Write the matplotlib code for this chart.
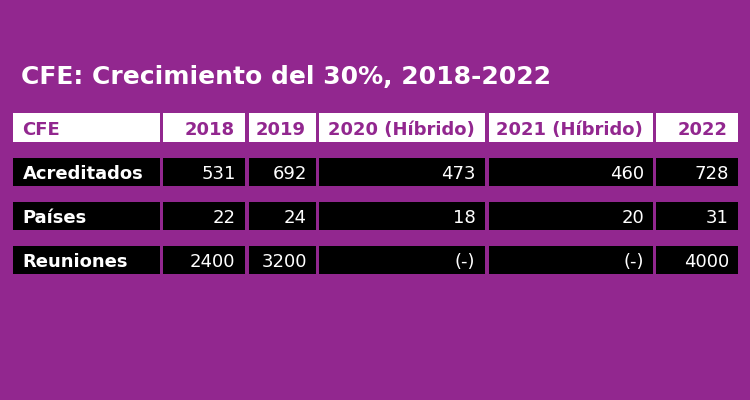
import matplotlib.pyplot as plt
from matplotlib.patches import Rectangle

# table content
title = "CFE: Crecimiento del 30%, 2018-2022"
header = ["CFE", "2018", "2019", "2020 (Híbrido)", "2021 (Híbrido)", "2022"]
row_labels = ["Acreditados", "Países", "Reuniones"]
acreditados = ["531", "692", "473", "460", "728"]
paises = ["22", "24", "18", "20", "31"]
reuniones = ["2400", "3200", "(-)", "(-)", "4000"]
rows = [acreditados, paises, reuniones]

purple = "#92278F"

# layout in pixels
col_left = [12.5, 163, 248.5, 319, 488.5, 656]
col_right = [159.5, 244.5, 316, 484.5, 653, 738]
header_y = (113, 142)
row_y = [(157.7, 186), (201.7, 230), (245.7, 274)]

fig = plt.figure(figsize=(7.5, 4), dpi=100, facecolor=purple)
ax = fig.add_axes([0, 0, 1, 1])
ax.set_xlim(0, 750)
ax.set_ylim(400, 0)
ax.axis("off")
ax.set_facecolor(purple)

font = "DejaVu Sans"

ax.text(21, 84, title, color="white", fontsize=18, fontweight="bold",
        family=font, va="baseline", ha="left")

# header row
for i, lab in enumerate(header):
    x0, x1 = col_left[i], col_right[i]
    y0, y1 = header_y
    ax.add_patch(Rectangle((x0, y0), x1 - x0, y1 - y0, color="white", lw=0))
    yb = y1 - 7
    if i == 0:
        ax.text(x0 + 10, yb, lab, color=purple, fontsize=13, fontweight="bold",
                family=font, va="baseline", ha="left")
    else:
        ax.text(x1 - 10, yb, lab, color=purple, fontsize=13, fontweight="bold",
                family=font, va="baseline", ha="right")

# data rows
for r, (lab, vals) in enumerate(zip(row_labels, rows)):
    y0, y1 = row_y[r]
    yb = y1 - 7
    for i in range(6):
        x0, x1 = col_left[i], col_right[i]
        ax.add_patch(Rectangle((x0, y0), x1 - x0, y1 - y0, color="black", lw=0))
    ax.text(col_left[0] + 10, yb, lab, color="white", fontsize=13, fontweight="bold",
            family=font, va="baseline", ha="left")
    for i, v in enumerate(vals):
        ax.text(col_right[i + 1] - 9, yb, v, color="white", fontsize=13,
                family=font, va="baseline", ha="right")

fig.savefig("out.png", dpi=100, facecolor=purple)
